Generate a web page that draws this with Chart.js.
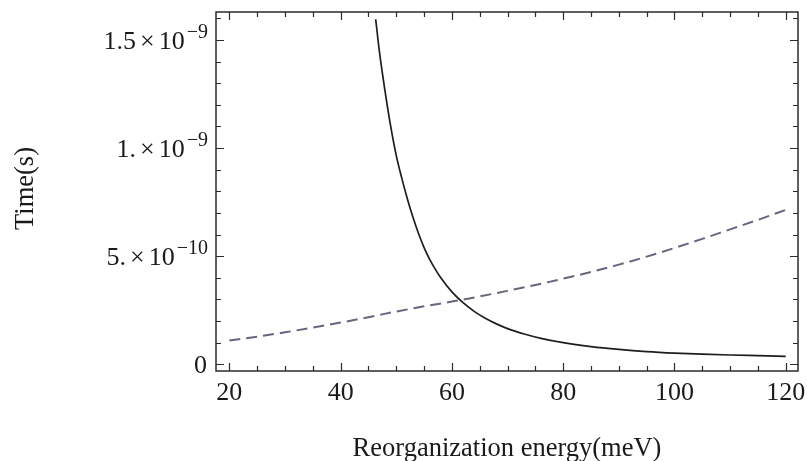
<!DOCTYPE html>
<html><head><meta charset="utf-8">
<script src="https://cdn.jsdelivr.net/npm/chart.js@4"></script>
<style>html,body{margin:0;padding:0;background:#fff;overflow:hidden;} #wrap{width:807px;height:461px;}</style>
</head><body><div id="wrap"><canvas id="c" width="807" height="461"></canvas></div>
<script>
// ---- data ----
const energySolid = [46.3, 47, 48, 49, 50, 51, 52, 53, 54, 55, 56, 57, 58, 60, 62, 64, 66, 68, 70, 73, 76, 80, 85, 90, 95, 100, 105, 110, 115, 120];
const timeSolid = [1.596e-9, 1.44e-9, 1.26e-9, 1.10e-9, 0.965e-9, 0.86e-9, 0.765e-9, 0.68e-9, 0.605e-9, 0.54e-9, 0.485e-9, 0.44e-9, 0.40e-9, 0.335e-9, 0.285e-9, 0.245e-9, 0.213e-9, 0.187e-9, 0.165e-9, 0.140e-9, 0.120e-9, 0.100e-9, 0.082e-9, 0.069e-9, 0.059e-9, 0.052e-9, 0.047e-9, 0.043e-9, 0.040e-9, 0.037e-9];
const energyDashed = [20, 25, 30, 35, 40, 45, 50, 55, 60, 65, 70, 75, 80, 85, 90, 95, 100, 105, 110, 115, 120];
const timeDashed = [0.110e-9, 0.128e-9, 0.148e-9, 0.170e-9, 0.193e-9, 0.218e-9, 0.244e-9, 0.268e-9, 0.290e-9, 0.314e-9, 0.340e-9, 0.367e-9, 0.396e-9, 0.427e-9, 0.461e-9, 0.498e-9, 0.538e-9, 0.580e-9, 0.624e-9, 0.668e-9, 0.714e-9];
const xTickValues = [20, 40, 60, 80, 100, 120];
const xTickLabels = ['20', '40', '60', '80', '100', '120'];
const yTickValues = [0, 5e-10, 1e-9, 1.5e-9];
const yTickMantissa = ['0', '5.', '1.', '1.5'];
const yTickExponent = ['', '\u221210', '\u22129', '\u22129'];
const xTitle = 'Reorganization energy(meV)';
const yTitle = 'Time(s)';

const SERIF = "'Liberation Serif', 'Times New Roman', serif";

const framePlugin = {
  id: 'mmaFrame',
  afterDraw(chart) {
    const ctx = chart.ctx, ca = chart.chartArea;
    const xs = chart.scales.x, ys = chart.scales.y;
    ctx.save();
    ctx.strokeStyle = '#2b2b2b';
    ctx.lineWidth = 1.5;
    ctx.strokeRect(ca.left, ca.top, ca.right - ca.left, ca.bottom - ca.top);
    ctx.lineWidth = 1.2;
    ctx.beginPath();
    // x ticks every 5, major every 20
    for (let v = 20; v <= 120; v += 5) {
      const px = Math.round(xs.getPixelForValue(v)) + 0.5;
      const len = (v % 20 === 0) ? 8 : 5;
      ctx.moveTo(px, ca.bottom); ctx.lineTo(px, ca.bottom - len);
      ctx.moveTo(px, ca.top); ctx.lineTo(px, ca.top + len);
    }
    // y ticks every 1e-10, major every 5e-10
    for (let i = 0; i <= 16; i++) {
      const py = Math.round(ys.getPixelForValue(i * 1e-10)) + 0.5;
      if (py < ca.top + 2) continue;
      const len = (i % 5 === 0) ? 8 : 5;
      ctx.moveTo(ca.left, py); ctx.lineTo(ca.left + len, py);
      ctx.moveTo(ca.right, py); ctx.lineTo(ca.right - len, py);
    }
    ctx.stroke();

    ctx.fillStyle = '#1a1a1a';
    // x tick labels
    ctx.font = '26px ' + SERIF;
    ctx.textAlign = 'center';
    ctx.textBaseline = 'alphabetic';
    xTickValues.forEach((v, i) => {
      ctx.fillText(xTickLabels[i], xs.getPixelForValue(v), ca.bottom + 29);
    });
    // y tick labels with superscript exponents
    const rightEdge = ca.left - 8;
    yTickValues.forEach((v, i) => {
      const py = ys.getPixelForValue(v);
      ctx.textAlign = 'left';
      if (!yTickExponent[i]) {
        ctx.font = '26px ' + SERIF;
        const w = ctx.measureText(yTickMantissa[i]).width;
        ctx.fillText(yTickMantissa[i], rightEdge - w - 1, py + 9);
        return;
      }
      ctx.font = '20px ' + SERIF;
      const we = ctx.measureText(yTickExponent[i]).width;
      let x = rightEdge - we;
      ctx.fillText(yTickExponent[i], x, py - 2);
      ctx.font = '26px ' + SERIF;
      const w10 = ctx.measureText('10').width;
      x -= w10 + 2;
      ctx.fillText('10', x, py + 9);
      const wx = ctx.measureText('\u00d7').width;
      x -= wx + 4;
      ctx.fillText('\u00d7', x, py + 9);
      const wm = ctx.measureText(yTickMantissa[i]).width;
      x -= wm + 4;
      ctx.fillText(yTickMantissa[i], x, py + 9);
    });
    // axis titles
    ctx.font = '26.5px ' + SERIF;
    ctx.textAlign = 'center';
    ctx.fillText(xTitle, (ca.left + ca.right) / 2, 456);
    ctx.save();
    ctx.translate(33, 188.5);
    ctx.rotate(-Math.PI / 2);
    ctx.fillText(yTitle, 0, 0);
    ctx.restore();
    ctx.restore();
  }
};

new Chart(document.getElementById('c'), {
  type: 'scatter',
  data: {
    datasets: [
      {
        label: 'solid',
        data: energySolid.map((e, i) => ({ x: e, y: timeSolid[i] })),
        showLine: true,
        borderColor: '#1e1e1e',
        borderWidth: 1.7,
        pointRadius: 0,
        cubicInterpolationMode: 'monotone',
        fill: false
      },
      {
        label: 'dashed',
        data: energyDashed.map((e, i) => ({ x: e, y: timeDashed[i] })),
        showLine: true,
        borderColor: '#66667f',
        borderWidth: 2,
        borderDash: [11, 6],
        pointRadius: 0,
        cubicInterpolationMode: 'monotone',
        fill: false
      }
    ]
  },
  options: {
    responsive: false,
    animation: false,
    devicePixelRatio: 1,
    layout: { padding: { left: 216, right: 9, top: 12, bottom: 90 } },
    plugins: { legend: { display: false }, tooltip: { enabled: false }, title: { display: false } },
    scales: {
      x: { type: 'linear', min: 17.6, max: 122.2, display: false },
      y: { type: 'linear', min: -0.031e-9, max: 1.6295e-9, display: false }
    }
  },
  plugins: [framePlugin]
});
</script>
</body></html>
